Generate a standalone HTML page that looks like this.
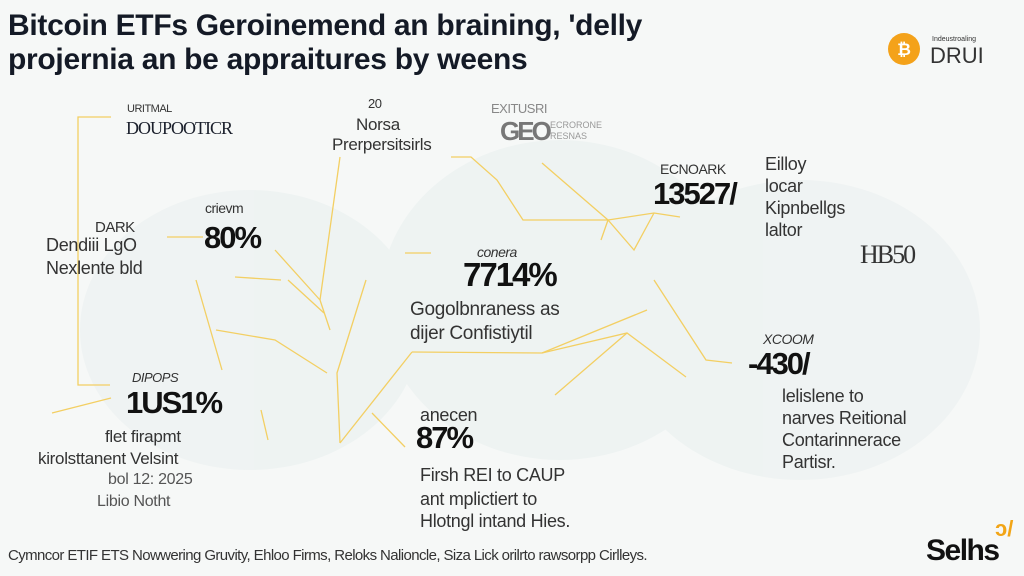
<!DOCTYPE html>
<html><head><meta charset="utf-8"><style>
html,body{margin:0;padding:0}
body{width:1024px;height:576px;position:relative;overflow:hidden;background:#f6f8f7;font-family:"Liberation Sans",sans-serif;color:#1a1f2b}
.t{position:absolute;white-space:nowrap;line-height:1}
.h{font-weight:bold;font-size:30px;color:#141a26;letter-spacing:-0.3px}
.big{font-weight:bold;font-size:31px;letter-spacing:-2px;color:#111}
.sm{font-size:13px;color:#333;letter-spacing:-0.5px}
.md{font-size:18px;color:#333;letter-spacing:-0.3px}
</style></head><body>
<svg width="1024" height="576" style="position:absolute;left:0;top:0">
<g fill="#e6eeee" opacity="0.45">
<ellipse cx="250" cy="330" rx="170" ry="140"/><ellipse cx="560" cy="300" rx="180" ry="160"/><ellipse cx="800" cy="330" rx="180" ry="150"/>
</g>
<g stroke="#f3cf63" stroke-width="1.3" fill="none">
<path d="M111 117 L78 117 L78 385 L110 385"/>
<path d="M52 413 L111 398"/>
<path d="M167 237 L203 237"/>
<path d="M340 157 L320 300"/>
<path d="M275 250 L320 300"/>
<path d="M235 277 L281 280"/>
<path d="M405 253 L431 253"/>
<path d="M451 157 L471 157 L497 180 L523 220 L608 220 L654 213 L680 217"/>
<path d="M542 163 L608 220 L634 250 L654 213"/>
<path d="M608 220 L601 240"/>
<path d="M196 280 L222 370"/>
<path d="M288 280 L324 313"/>
<path d="M216 330 L275 340 L327 373"/>
<path d="M268 440 L261 410"/>
<path d="M412 352 L542 353 L647 310"/>
<path d="M542 353 L627 333 L686 377"/>
<path d="M412 352 L340 443"/>
<path d="M372 413 L405 447"/>
<path d="M627 333 L555 395"/>
<path d="M654 280 L706 360 L732 363"/>
<path d="M366 280 L337 373 L340 443"/>
<path d="M320 300 L330 330"/>
</g>
<circle cx="904" cy="49" r="16" fill="#f4a21a"/>
<text x="904" y="55" font-family="Liberation Sans" font-size="17" font-weight="bold" fill="#fff" text-anchor="middle">₿</text>
</svg>
<div class="t h" style="left:8px;top:11px">Bitcoin ETFs Geroinemend an braining, 'delly</div>
<div class="t h" style="left:8px;top:45px">projernia an be appraitures by weens</div>
<div class="t" style="left:932px;top:36px;font-size:7px;color:#333">Indeustroaling</div>
<div class="t" style="left:930px;top:45px;font-size:22px;color:#333">DRUI</div>

<div class="t sm" style="left:127px;top:104px;font-size:11px">URITMAL</div>
<div class="t" style="left:126px;top:119px;font-size:18px;font-family:'Liberation Serif',serif;letter-spacing:-1px">DOUPOOTICR</div>
<div class="t sm" style="left:368px;top:97px">20</div>
<div class="t md" style="left:356px;top:116px;font-size:17px">Norsa</div>
<div class="t md" style="left:332px;top:136px;font-size:17px">Prerpersitsirls</div>
<div class="t sm" style="left:491px;top:102px;color:#888">EXITUSRI</div>
<div class="t" style="left:500px;top:118px;font-size:26px;color:#777;font-weight:bold;letter-spacing:-3px">GEO</div>
<div class="t" style="left:550px;top:120px;font-size:9px;color:#999;line-height:1.2">ECRORONE<br>RESNAS</div>

<div class="t sm" style="left:660px;top:162px;font-size:14px">ECNOARK</div>
<div class="t big" style="left:653px;top:178px">13527/</div>
<div class="t md" style="left:765px;top:155px">Eilloy</div>
<div class="t md" style="left:765px;top:177px">locar</div>
<div class="t md" style="left:765px;top:199px">Kipnbellgs</div>
<div class="t md" style="left:765px;top:221px">laltor</div>

<div class="t sm" style="left:205px;top:201px;font-size:14px">crievm</div>
<div class="t big" style="left:204px;top:222px">80%</div>
<div class="t sm" style="left:95px;top:220px;font-size:15px">DARK</div>
<div class="t md" style="left:46px;top:236px">Dendiii LgO</div>
<div class="t md" style="left:46px;top:259px">Nexlente bld</div>

<div class="t sm" style="left:477px;top:245px;font-size:14px;font-style:italic">conera</div>
<div class="t big" style="left:463px;top:258px;font-size:33px">7714%</div>
<div class="t md" style="left:410px;top:300px;font-size:19px">Gogolbnraness as</div>
<div class="t md" style="left:410px;top:324px;font-size:19px">dijer Confistiytil</div>
<div class="t md" style="left:860px;top:242px;font-size:26px;font-family:'Liberation Serif',serif;letter-spacing:-2px">HB50</div>

<div class="t sm" style="left:132px;top:371px;font-style:italic">DIPOPS</div>
<div class="t big" style="left:126px;top:387px">1US1%</div>
<div class="t md" style="left:105px;top:428px;font-size:17px">flet firapmt</div>
<div class="t md" style="left:38px;top:450px;font-size:17px">kirolsttanent Velsint</div>
<div class="t md" style="left:108px;top:472px;font-size:16px;color:#555">bol 12: 2025</div>
<div class="t md" style="left:97px;top:494px;font-size:16px;color:#555">Libio Notht</div>

<div class="t sm" style="left:763px;top:332px;font-size:14px;font-style:italic">XCOOM</div>
<div class="t big" style="left:748px;top:348px">-430/</div>
<div class="t md" style="left:782px;top:387px">lelislene to</div>
<div class="t md" style="left:782px;top:409px">narves Reitional</div>
<div class="t md" style="left:782px;top:431px">Contarinnerace</div>
<div class="t md" style="left:782px;top:453px">Partisr.</div>

<div class="t md" style="left:420px;top:406px">anecen</div>
<div class="t big" style="left:416px;top:422px">87%</div>
<div class="t md" style="left:420px;top:466px">Firsh REI to CAUP</div>
<div class="t md" style="left:420px;top:490px">ant mplictiert to</div>
<div class="t md" style="left:420px;top:512px">Hlotngl intand Hies.</div>

<div class="t" style="left:8px;top:548px;font-size:15px;color:#333;letter-spacing:-0.6px">Cymncor ETIF ETS Nowwering Gruvity, Ehloo Firms, Reloks Nalioncle, Siza Lick orilrto rawsorpp Cirlleys.</div>
<div class="t" style="left:926px;top:536px;font-size:30px;font-weight:bold;color:#111;letter-spacing:-1.5px">Selhs</div>
<div class="t" style="left:995px;top:518px;font-size:22px;color:#f2a516;font-weight:bold">ↄ/</div>
</body></html>
